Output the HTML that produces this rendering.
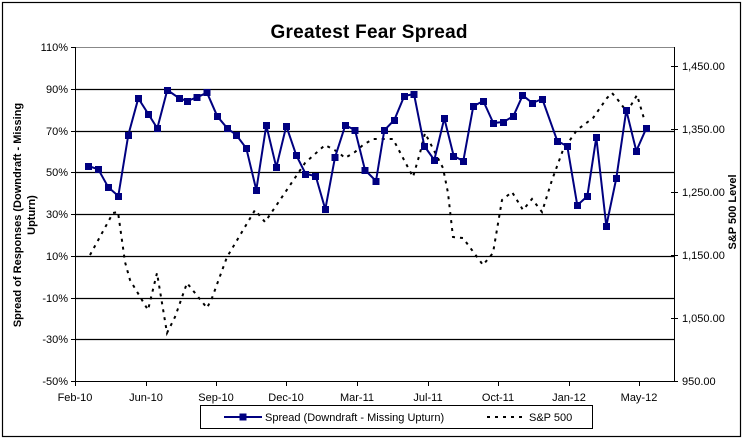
<!DOCTYPE html>
<html><head><meta charset="utf-8"><style>body{margin:0;background:#fff}svg{display:block}</style></head><body>
<svg width="746" height="440" xmlns="http://www.w3.org/2000/svg" font-family="Liberation Sans, Arial, sans-serif">
<rect x="0" y="0" width="746" height="440" fill="#fff"/>
<rect x="2.5" y="2.5" width="738" height="434" fill="#fff" stroke="#000" stroke-width="1.2"/>
<text x="369" y="38" font-size="19" font-weight="bold" text-anchor="middle" textLength="197">Greatest Fear Spread</text>
<g stroke="#000" stroke-width="1.2">
<line x1="75" y1="89.5" x2="674" y2="89.5"/>
<line x1="75" y1="131.5" x2="674" y2="131.5"/>
<line x1="75" y1="172.5" x2="674" y2="172.5"/>
<line x1="75" y1="214.5" x2="674" y2="214.5"/>
<line x1="75" y1="256.5" x2="674" y2="256.5"/>
<line x1="75" y1="298.5" x2="674" y2="298.5"/>
<line x1="75" y1="339.5" x2="674" y2="339.5"/>
</g>
<line x1="75" y1="47.5" x2="674" y2="47.5" stroke="#888" stroke-width="1"/>
<g stroke="#000" stroke-width="1">
<line x1="75.5" y1="47" x2="75.5" y2="382"/>
<line x1="674.5" y1="47" x2="674.5" y2="382"/>
<line x1="75" y1="381.5" x2="674" y2="381.5"/>
<line x1="71" y1="47.5" x2="75" y2="47.5"/><line x1="71" y1="89.5" x2="75" y2="89.5"/><line x1="71" y1="131.5" x2="75" y2="131.5"/><line x1="71" y1="172.5" x2="75" y2="172.5"/><line x1="71" y1="214.5" x2="75" y2="214.5"/><line x1="71" y1="256.5" x2="75" y2="256.5"/><line x1="71" y1="298.5" x2="75" y2="298.5"/><line x1="71" y1="339.5" x2="75" y2="339.5"/><line x1="71" y1="381.5" x2="75" y2="381.5"/>
<line x1="671" y1="66.5" x2="678" y2="66.5"/><line x1="671" y1="129.5" x2="678" y2="129.5"/><line x1="671" y1="192.5" x2="678" y2="192.5"/><line x1="671" y1="255.5" x2="678" y2="255.5"/><line x1="671" y1="318.5" x2="678" y2="318.5"/><line x1="671" y1="381.5" x2="678" y2="381.5"/>
<line x1="75.5" y1="381" x2="75.5" y2="386"/><line x1="146.5" y1="381" x2="146.5" y2="386"/><line x1="216.5" y1="381" x2="216.5" y2="386"/><line x1="286.5" y1="381" x2="286.5" y2="386"/><line x1="357.5" y1="381" x2="357.5" y2="386"/><line x1="428.5" y1="381" x2="428.5" y2="386"/><line x1="498.5" y1="381" x2="498.5" y2="386"/><line x1="569.5" y1="381" x2="569.5" y2="386"/><line x1="639.5" y1="381" x2="639.5" y2="386"/>
</g>
<g font-size="11" text-anchor="end" fill="#000">
<text x="68" y="51">110%</text><text x="68" y="93">90%</text><text x="68" y="135">70%</text><text x="68" y="176">50%</text><text x="68" y="218">30%</text><text x="68" y="260">10%</text><text x="68" y="302">-10%</text><text x="68" y="343">-30%</text><text x="68" y="385">-50%</text>
</g>
<g font-size="11" text-anchor="start">
<text x="682" y="70">1,450.00</text><text x="682" y="133">1,350.00</text><text x="682" y="196">1,250.00</text><text x="682" y="259">1,150.00</text><text x="682" y="322">1,050.00</text><text x="682" y="385">950.00</text>
</g>
<g font-size="11" text-anchor="middle">
<text x="75" y="401">Feb-10</text><text x="146" y="401">Jun-10</text><text x="216" y="401">Sep-10</text><text x="286" y="401">Dec-10</text><text x="357" y="401">Mar-11</text><text x="428" y="401">Jul-11</text><text x="498" y="401">Oct-11</text><text x="569" y="401">Jan-12</text><text x="639" y="401">May-12</text>
</g>
<g font-size="11" font-weight="bold" text-anchor="middle">
<text transform="translate(21,215) rotate(-90)">Spread of Responses (Downdraft - Missing</text>
<text transform="translate(35,215) rotate(-90)">Upturn)</text>
<text transform="translate(736,212) rotate(-90)">S&amp;P 500 Level</text>
</g>
<polyline fill="none" stroke="#000" stroke-width="2" stroke-dasharray="3,5" points="90,255 113,213 118,212 125,262 130,280 148,310 157,273 167,333 175,317 187,283 207,308 212,298 227,257 233,247 255,210 265,222 280,200 305,163 325,145 338,152 345,158 355,152 363,145 373,139 393,139 413,177 420,153 425,133 443,168 448,193 453,237 463,238 483,265 493,253 502,200 512,192 523,210 532,199 542,212 552,180 563,150 577,130 593,118 607,98 612,93 618,100 627,112 637,95 645,122"/>
<polyline fill="none" stroke="#000080" stroke-width="2" stroke-linejoin="round" points="88.3,166 98.3,169.3 108.3,187.3 118.3,196 128.3,135 138.3,98.3 148.3,114 157.3,128.3 167.3,90 179.3,98.3 187.3,101 197,97.3 207,92.7 217.3,116.3 227.3,128.3 236.3,135 246.3,148.3 256.3,190 266.3,125.3 276.3,167.3 286.3,126 296.3,155.3 305.7,174 315.7,176 325.3,209.3 335,157.3 345.3,125.3 355,130 365,170 376,181 384.3,130.3 394.3,120 404.3,96 414,94 424.3,146 434.3,160 444.3,118.3 453.7,156 463.3,161 473.3,106.3 483.3,101 493.3,123 503.3,122 513.3,116.3 522.7,95.3 532.3,103 542.3,99 557.3,141 567.3,146.3 577.3,205.3 587.3,196.3 596.3,137.3 606.3,226 616.3,178.3 626.3,110.3 636.3,151 646.3,128.3"/>
<g fill="#000080">
<rect x="85" y="163" width="7" height="7"/><rect x="95" y="166" width="7" height="7"/><rect x="105" y="184" width="7" height="7"/><rect x="115" y="193" width="7" height="7"/><rect x="125" y="132" width="7" height="7"/><rect x="135" y="95" width="7" height="7"/><rect x="145" y="111" width="7" height="7"/><rect x="154" y="125" width="7" height="7"/><rect x="164" y="87" width="7" height="7"/><rect x="176" y="95" width="7" height="7"/><rect x="184" y="98" width="7" height="7"/><rect x="193.5" y="94" width="7" height="7"/><rect x="203.5" y="89" width="7" height="7"/><rect x="214" y="113" width="7" height="7"/><rect x="224" y="125" width="7" height="7"/><rect x="233" y="132" width="7" height="7"/><rect x="243" y="145" width="7" height="7"/><rect x="253" y="187" width="7" height="7"/><rect x="263" y="122" width="7" height="7"/><rect x="273" y="164" width="7" height="7"/><rect x="283" y="123" width="7" height="7"/><rect x="293" y="152" width="7" height="7"/><rect x="302" y="171" width="7" height="7"/><rect x="312" y="173" width="7" height="7"/><rect x="322" y="206" width="7" height="7"/><rect x="331.5" y="154" width="7" height="7"/><rect x="342" y="122" width="7" height="7"/><rect x="351.5" y="127" width="7" height="7"/><rect x="361.5" y="167" width="7" height="7"/><rect x="372.5" y="178" width="7" height="7"/><rect x="381" y="127" width="7" height="7"/><rect x="391" y="117" width="7" height="7"/><rect x="401" y="93" width="7" height="7"/><rect x="410.5" y="91" width="7" height="7"/><rect x="421" y="143" width="7" height="7"/><rect x="431" y="157" width="7" height="7"/><rect x="441" y="115" width="7" height="7"/><rect x="450" y="153" width="7" height="7"/><rect x="460" y="158" width="7" height="7"/><rect x="470" y="103" width="7" height="7"/><rect x="480" y="98" width="7" height="7"/><rect x="490" y="120" width="7" height="7"/><rect x="500" y="119" width="7" height="7"/><rect x="510" y="113" width="7" height="7"/><rect x="519" y="92" width="7" height="7"/><rect x="529" y="100" width="7" height="7"/><rect x="539" y="96" width="7" height="7"/><rect x="554" y="138" width="7" height="7"/><rect x="564" y="143" width="7" height="7"/><rect x="574" y="202" width="7" height="7"/><rect x="584" y="193" width="7" height="7"/><rect x="593" y="134" width="7" height="7"/><rect x="603" y="223" width="7" height="7"/><rect x="613" y="175" width="7" height="7"/><rect x="623" y="107" width="7" height="7"/><rect x="633" y="148" width="7" height="7"/><rect x="643" y="125" width="7" height="7"/>
</g>
<rect x="200.5" y="405.5" width="392" height="23" fill="#fff" stroke="#000" stroke-width="1"/>
<line x1="224" y1="417" x2="262" y2="417" stroke="#000080" stroke-width="2"/>
<rect x="239.5" y="413.5" width="7" height="7" fill="#000080"/>
<text x="265" y="421" font-size="11">Spread (Downdraft - Missing Upturn)</text>
<line x1="487" y1="417" x2="527" y2="417" stroke="#000" stroke-width="2" stroke-dasharray="3,5"/>
<text x="529" y="421" font-size="11">S&amp;P 500</text>
</svg>
</body></html>
